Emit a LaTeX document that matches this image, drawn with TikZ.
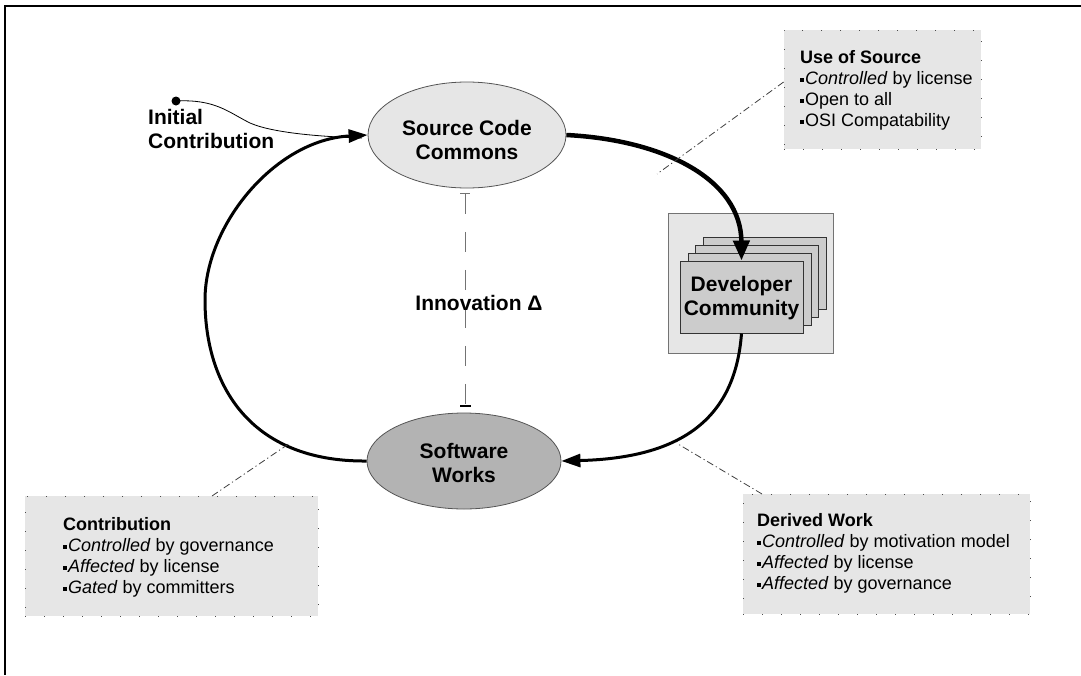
\documentclass[tikz,border=0pt]{standalone}
\usepackage{fontspec}
\setmainfont{Liberation Sans}
\usetikzlibrary{arrows.meta,shapes.geometric}
\definecolor{lightfill}{HTML}{E6E6E6}
\definecolor{midfill}{HTML}{B3B3B3}
\definecolor{cardfill}{HTML}{CCCCCC}
\definecolor{edgegray}{HTML}{555555}
\newcommand{\sqbul}{\rule[3pt]{4pt}{4pt}\kern1pt}
\tikzset{
  lbl/.style={font=\bfseries\fontsize{21}{24}\selectfont, align=center, inner sep=0pt},
  blob/.style={ellipse, draw=edgegray, line width=0.8pt, inner sep=0pt},
  card/.style={rectangle, draw=black!80, line width=1pt, fill=cardfill, inner sep=0pt, minimum width=123pt, minimum height=72pt},
  infobox/.style={rectangle, fill=lightfill, draw=black!70, line width=0.8pt, dash pattern=on 1pt off 18pt, inner sep=0pt},
  infotext/.style={font=\fontsize{18}{21}\selectfont, align=left, inner sep=0pt, anchor=north west},
  flow/.style={line width=3pt, -{Triangle[length=19pt,width=13pt]}},
  callout/.style={draw=black!75, line width=0.8pt, dash pattern=on 7pt off 3pt on 1.2pt off 3pt},
}
\begin{document}
\begin{tikzpicture}[x=1pt,y=-1pt]
\useasboundingbox (0,0) rectangle (1081,675);
% frame
\draw[line width=2pt] (4,6) -- (1081,6);
\draw[line width=1.2pt] (5,6) -- (5,675);

% info boxes
\node[infobox, minimum width=197pt, minimum height=119pt] (usebox) at (882.5,89.5) {};
\node[infotext] (usetext) at (800,50.5) {\textbf{Use of Source}\\\sqbul\textit{Controlled} by license\\\sqbul Open to all\\\sqbul OSI Compatability};

\node[infobox, minimum width=293pt, minimum height=120pt] (conbox) at (171.5,556) {};
\node[infotext] (context) at (63,517.5) {\textbf{Contribution}\\\sqbul\textit{Controlled} by governance\\\sqbul\textit{Affected} by license\\\sqbul\textit{Gated} by committers};

\node[infobox, minimum width=287pt, minimum height=120pt] (derbox) at (886.5,554) {};
\node[infotext] (dertext) at (757,513.5) {\textbf{Derived Work}\\\sqbul\textit{Controlled} by motivation model\\\sqbul\textit{Affected} by license\\\sqbul\textit{Affected} by governance};

% developer community
\node[rectangle, fill=lightfill, draw=black!55, line width=1pt, minimum width=165pt, minimum height=140pt] (outer) at (750.5,283) {};
\node[card] (c4) at (764.5,273.5) {};
\node[card] (c3) at (756.5,281) {};
\node[card] (c2) at (749.5,289) {};
\node[card] (dc) at (741.5,297) {};
\node[lbl] (dctext) at (741.5,298) {Developer\\Community};

% ellipses
\node[blob, fill=lightfill, minimum width=198pt, minimum height=106pt] (scc) at (467,135) {};
\node[lbl] (scctext) at (467,140) {Source Code\\Commons};
\node[blob, fill=midfill, minimum width=194pt, minimum height=96pt] (sw) at (464,461) {};
\node[lbl] (swtext) at (464,463) {Software\\Works};

% innovation
\coordinate (itop) at (465,193);
\coordinate (ibot) at (465,407);
\draw[draw=black!55, line width=1pt, dash pattern=on 20pt off 18pt,
  {Bar[width=10pt,line width=1pt,color=black!55]}-{Bar[width=11pt,line width=1.6pt,color=black]}] (itop) -- (ibot);
\node[lbl] (innov) at (479,303) {Innovation Δ};

% initial contribution
\node[circle, fill=black, inner sep=0pt, minimum size=9pt] (dot) at (176,101) {};
\node[lbl, align=left, anchor=north west] (initlbl) at (148,109) {Initial\\Contribution};
\coordinate (sccin) at (362,138);
\draw[line width=0.8pt] (dot.center) .. controls (215,99) and (228,112) .. (250,123) .. controls (275,134) and (330,137) .. (sccin);

% flows
\draw[flow, line width=4.5pt, -{Triangle[length=20pt,width=16pt]}] (scc.east) .. controls (665,140) and (741,180) .. (dc.north);
\draw[flow] (dc.south) .. controls (735,420) and (680,458) .. (sw.east);
\coordinate (loopleft) at (205,300);
\draw[flow] (sw.west) .. controls (250,462) and (205,385) .. (loopleft) .. controls (205,225) and (275,140) .. (scc.west);

% callouts
\coordinate (usept) at (657,174);
\draw[callout] (usebox.west |- 0,82) -- (usept);
\coordinate (conpt) at (290,443);
\draw[callout] (212,496) -- (conpt);
\coordinate (derpt) at (678,444);
\draw[callout] (762,494) -- (derpt);
\end{tikzpicture}
\end{document}
